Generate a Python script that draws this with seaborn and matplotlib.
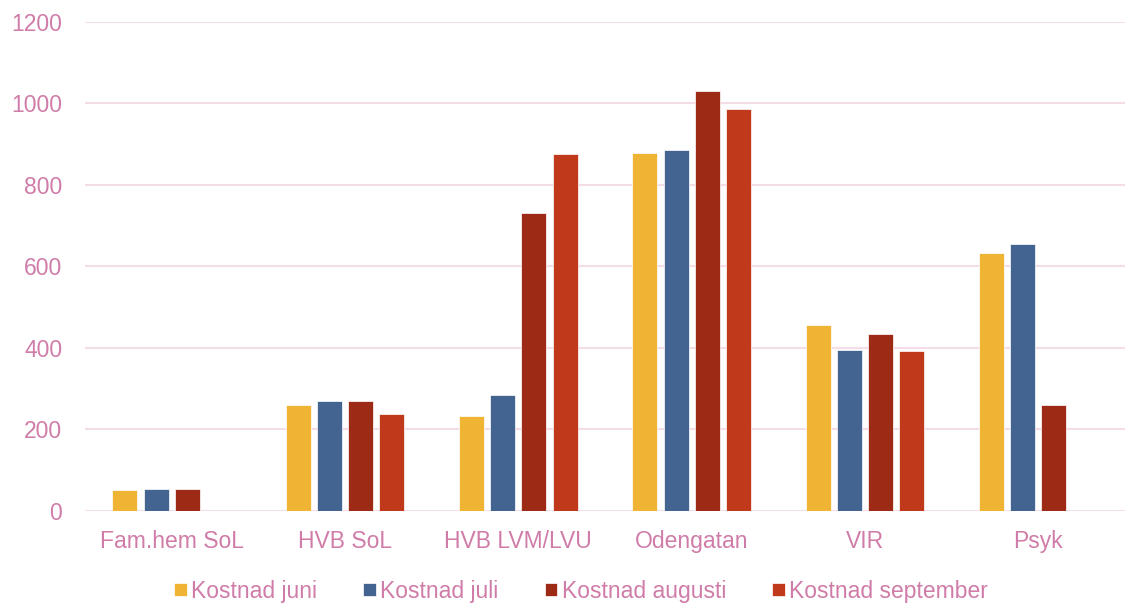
import numpy as np
import pandas as pd
import seaborn as sns
import matplotlib.pyplot as plt

categories = ['Fam.hem SoL', 'HVB SoL', 'HVB LVM/LVU', 'Odengatan', 'VIR', 'Psyk']
juni = [52, 260, 233, 878, 456, 633]
juli = [53, 270, 285, 886, 395, 655]
augusti = [53, 270, 731, 1031, 434, 260]
september = [np.nan, 238, 876, 986, 393, np.nan]

series = ['Kostnad juni', 'Kostnad juli', 'Kostnad augusti', 'Kostnad september']
colors = ['#F0B435', '#436390', '#9C2A14', '#C0391A']
text_color = '#D07CA8'
grid_color = '#F5DDE8'

df = pd.DataFrame({
    'Kategori': categories * 4,
    'Kostnad': juni + juli + augusti + september,
    'Serie': [s for s in series for _ in categories],
})

sns.set_style('white')
plt.rcParams['font.family'] = ['Liberation Sans', 'DejaVu Sans']

fig = plt.figure(figsize=(11.25, 6.03), dpi=100)
ax = fig.add_axes([0.0756, 0.1526, 0.9244, 0.811])

sns.barplot(data=df, x='Kategori', y='Kostnad', hue='Serie', hue_order=series,
            order=categories, palette=colors, saturation=1, width=0.72, gap=0.2,
            edgecolor='white', linewidth=0.5, ax=ax)

ax.set_ylim(0, 1200)
ax.set_xlim(-0.5, 5.5)
ax.set_yticks(range(0, 1201, 200))
ax.yaxis.grid(True, color=grid_color, linewidth=1.5)
ax.set_axisbelow(True)
for s in ax.spines.values():
    s.set_visible(False)
ax.set_xlabel('')
ax.set_ylabel('')
ax.tick_params(axis='both', length=0, labelsize=16.5, colors=text_color)
ax.tick_params(axis='y', pad=16.5)
ax.tick_params(axis='x', pad=14)

ax.legend(loc='upper center', bbox_to_anchor=(0.477, -0.098), ncol=4, frameon=False,
          fontsize=16.5, labelcolor=text_color, handlelength=0.55, handleheight=0.55,
          handletextpad=0.2, columnspacing=2.0)

fig.savefig('out.png', dpi=100)
